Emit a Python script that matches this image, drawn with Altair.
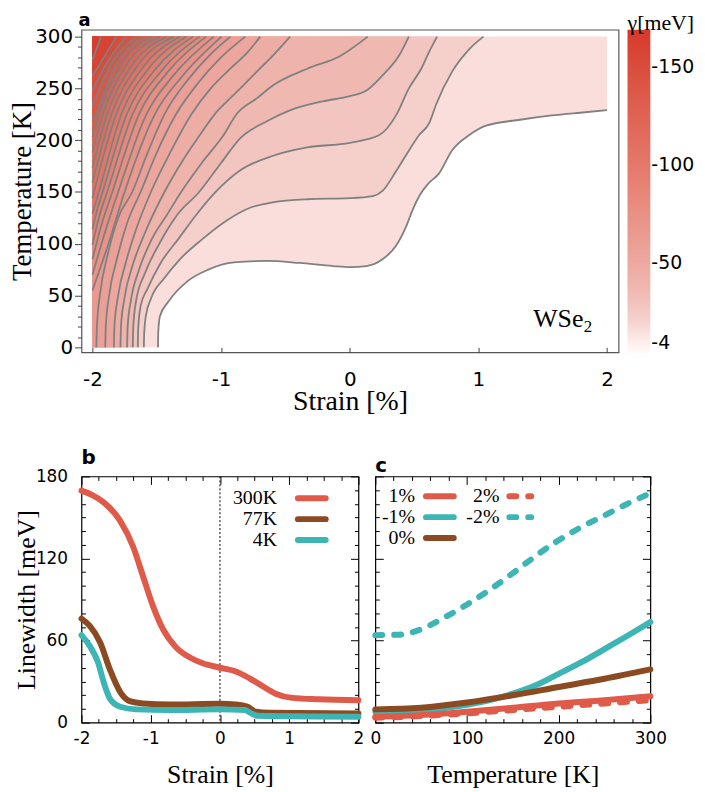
import altair as alt
import pandas as pd

SERIF = "Liberation Serif"
SANS = "DejaVu Sans"
RED = "#e05a4a"
BROWN = "#8b4a22"
TEAL = "#3db5b5"
GRAY = "#808080"

# ---------------- panel a : contour lines (strain %, temperature K) ----------------
L01 = [(-1.49, 0), (-1.488, 15), (-1.475, 30), (-1.41, 44), (-1.26, 64), (-1.10, 75), (-0.90, 82),
       (-0.64, 83.5), (-0.39, 81.5), (-0.13, 78.5), (0.0, 77.5), (0.13, 78.5), (0.255, 85), (0.36, 98),
       (0.44, 117), (0.49, 133), (0.55, 148), (0.61, 158), (0.695, 168), (0.795, 190), (0.93, 205),
       (1.06, 214), (1.31, 219.5), (1.57, 224), (1.83, 227), (2.0, 229)]
L02 = [(-1.60, 0), (-1.597, 15), (-1.585, 30), (-1.545, 47), (-1.44, 67), (-1.32, 85), (-1.15, 104),
       (-0.95, 123), (-0.77, 135), (-0.60, 140), (-0.33, 143), (0.0, 144), (0.18, 146), (0.255, 151),
       (0.36, 170), (0.44, 186), (0.54, 205), (0.62, 217), (0.67, 234), (0.795, 266), (0.93, 288), (1.04, 300)]
L03 = [(-1.647, 0), (-1.644, 18), (-1.625, 40), (-1.57, 57), (-1.467, 82), (-1.336, 104), (-1.18, 130),
       (-1.027, 152), (-0.85, 171), (-0.595, 185), (-0.33, 193), (0.0, 197.5), (0.23, 205), (0.36, 224),
       (0.46, 250), (0.556, 269), (0.62, 286), (0.68, 300)]
L04 = [(-1.686, 0), (-1.682, 20), (-1.66, 45), (-1.59, 72), (-1.48, 100), (-1.34, 128), (-1.17, 150),
       (-1.0, 178), (-0.85, 202), (-0.64, 218.5), (-0.46, 229), (-0.21, 237.5), (0.0, 242.5), (0.13, 248),
       (0.255, 262.5), (0.385, 282), (0.46, 300)]
L05 = [(-1.73, 0), (-1.726, 20), (-1.70, 46), (-1.64, 74), (-1.54, 104), (-1.42, 128), (-1.31, 150),
       (-1.15, 178), (-0.98, 205), (-0.88, 225), (-0.72, 240.6), (-0.595, 253), (-0.33, 269), (-0.077, 281),
       (0.14, 300)]
L06 = [(-1.782, 0), (-1.778, 20), (-1.75, 48), (-1.69, 78), (-1.60, 108), (-1.44, 150), (-1.30, 180),
       (-1.17, 204), (-1.05, 225), (-0.95, 238), (-0.85, 250), (-0.72, 266.5), (-0.595, 282), (-0.463, 300)]
L07 = [(-1.833, 0), (-1.829, 20), (-1.80, 50), (-1.74, 82), (-1.66, 114), (-1.545, 150), (-1.42, 182),
       (-1.23, 225), (-1.08, 250), (-0.92, 270), (-0.80, 284), (-0.695, 300)]
L08 = [(-1.90, 0), (-1.896, 20), (-1.87, 50), (-1.81, 85), (-1.73, 120), (-1.625, 150), (-1.51, 185),
       (-1.35, 225), (-1.18, 255), (-1.0, 280), (-0.811, 300)]
L09 = [(-1.969, 0), (-1.965, 20), (-1.94, 52), (-1.88, 90), (-1.80, 125), (-1.69, 150), (-1.58, 185),
       (-1.44, 225), (-1.26, 258), (-1.09, 282), (-0.927, 300)]
L10 = [(-2.0, 55), (-1.875, 100), (-1.75, 150), (-1.515, 225), (-1.30, 262), (-0.996, 300)]
L11 = [(-2.0, 70), (-1.905, 110), (-1.80, 150), (-1.58, 225), (-1.36, 264), (-1.056, 300)]
L12 = [(-2.0, 85), (-1.93, 118), (-1.845, 150), (-1.638, 225), (-1.42, 265), (-1.115, 300)]
L13 = [(-2.0, 99), (-1.95, 125), (-1.885, 150), (-1.688, 225), (-1.47, 266), (-1.166, 300)]
L14 = [(-2.0, 114), (-1.96, 134), (-1.92, 150), (-1.733, 225), (-1.52, 267), (-1.218, 300)]
L15 = [(-2.0, 129), (-1.95, 150), (-1.775, 225), (-1.57, 268), (-1.269, 300)]
L16 = [(-2.0, 144), (-1.815, 225), (-1.615, 269), (-1.320, 300)]
L17 = [(-2.0, 159), (-1.851, 225), (-1.66, 270), (-1.369, 300)]
L18 = [(-2.0, 173), (-1.885, 225), (-1.705, 270), (-1.423, 300)]
L19 = [(-2.0, 188), (-1.917, 225), (-1.75, 270), (-1.475, 300)]
L20 = [(-2.0, 203), (-1.947, 225), (-1.79, 270), (-1.531, 300)]
L21 = [(-2.0, 218), (-1.975, 225), (-1.83, 270), (-1.596, 300)]
L22 = [(-2.0, 233), (-1.87, 270), (-1.660, 300)]
L23 = [(-2.0, 248), (-1.91, 270), (-1.737, 300)]
L24 = [(-2.0, 262), (-1.95, 272), (-1.815, 300)]
L25 = [(-2.0, 277), (-1.975, 286), (-1.931, 300)]
CONTOURS = [L01, L02, L03, L04, L05, L06, L07, L08, L09, L10, L11, L12, L13,
            L14, L15, L16, L17, L18, L19, L20, L21, L22, L23, L24, L25]
LEVELS = [13, 19, 25, 32, 38, 44, 50, 56, 63, 69, 75, 81, 87, 94, 100, 106, 112,
          118, 125, 131, 137, 143, 149, 156, 162]
CB_DOMAIN = [4, 12, 20, 35, 60, 100, 140, 169]
CB_RANGE = ["#ffffff", "#fbe9e7", "#f6d3cf", "#efb9b2", "#ea9f95", "#e4786a", "#dc5645", "#d6392a"]
CB_TICKS = [4, 50, 100, 150]

# ---------------- panel b : linewidth vs strain ----------------
B300_S = [-2.0, -1.85, -1.684, -1.445, -1.254, -1.11, -0.967, -0.823, -0.632, -0.44, -0.249, -0.033,
          0.23, 0.421, 0.612, 0.804, 1.043, 1.426, 2.0]
B300_G = [169.6, 166.5, 161.2, 147.9, 128.6, 106.9, 85.2, 68.3, 55.0, 47.8, 43.4, 40.5,
          37.4, 32.6, 26.8, 21.2, 18.1, 17.1, 16.4]
B77_S = [-2.0, -1.88, -1.73, -1.59, -1.44, -1.30, -1.11, -0.73, 0.0, 0.23, 0.40, 0.52, 0.71, 2.0]
B77_G = [76, 70.7, 58.6, 39, 22.4, 15.7, 14, 13.3, 13.8, 13.3, 11.6, 8, 7.2, 6.8]
B4_S = [-2.0, -1.88, -1.76, -1.68, -1.59, -1.44, -1.21, -0.73, 0.0, 0.36, 0.45, 0.55, 2.0]
B4_G = [64, 56, 44, 29.7, 17.6, 11.6, 9.7, 9.2, 9.7, 9.2, 6.8, 5.0, 4.3]

# ---------------- panel c : linewidth vs temperature ----------------
CM2_T = [0, 25, 50, 75, 100, 125, 150, 175, 200, 225, 250, 275, 300]
CM2_G = [64, 64.3, 68.3, 76.7, 86.4, 97.2, 109.3, 121.9, 133.4, 143.1, 151.5, 160, 167.7]
CM1_T = [0, 50, 100, 125, 150, 175, 200, 225, 250, 275, 300]
CM1_G = [8.0, 9.0, 13.0, 16.5, 21.2, 27.3, 35.7, 44.2, 53.8, 63.5, 73.6]
C0_T = [0, 50, 100, 150, 200, 250, 300]
C0_G = [9.7, 10.9, 14.7, 20.0, 26.1, 32.1, 38.9]
CP1_T = [0, 50, 100, 150, 200, 250, 300]
CP1_G = [4.3, 5.5, 8.0, 10.9, 14.0, 16.4, 19.3]
CP2_T = [0, 50, 100, 150, 200, 250, 300]
CP2_G = [3.6, 4.8, 6.8, 9.2, 11.6, 14.0, 16.4]

# =====================================================================
WA, HA = 541, 325
XA = alt.Scale(domain=[-2.085, 2.09], nice=False, zero=False)
YA = alt.Scale(domain=[-4.8, 306.7], nice=False, zero=False)
COLOR_A = alt.Scale(domain=CB_DOMAIN, range=CB_RANGE)
LEGEND_A = alt.Legend(
    title="γ[meV]", orient="none", legendX=WA + 9, legendY=-17, direction="vertical",
    gradientLength=326, gradientThickness=23, gradientStrokeWidth=0, values=CB_TICKS,
    titleFont=SERIF, titleFontSize=22, titleFontWeight="normal", titleColor="black", titlePadding=-5,
    labelFont=SANS, labelFontSize=19, labelColor="black", labelExpr="'-' + datum.label", labelOffset=1,
)

area_layers = []
line_rows = []
for k, pts in enumerate(CONTOURS):
    for i, (s, t) in enumerate(pts):
        line_rows.append({"k": k, "i": i, "s": s, "T": t})
    pts_area = list(pts)
    if pts_area[0][0] > -2.0:          # line starts on the bottom edge: fill everything left of it
        pts_area = [(-2.0, 0.0)] + pts_area
    dfa = pd.DataFrame(pts_area, columns=["s", "T"])
    dfa["top"] = 300.0
    dfa["band"] = LEVELS[k] + 3
    area_layers.append(
        alt.Chart(dfa).mark_area(interpolate="monotone", opacity=1).encode(
            x=alt.X("s:Q", scale=XA, axis=None),
            y=alt.Y("T:Q", scale=YA, axis=None),
            y2="top:Q",
            color=alt.Color("band:Q", scale=COLOR_A, legend=LEGEND_A),
        )
    )
df_lines = pd.DataFrame(line_rows)

contour_lines = alt.Chart(df_lines).mark_line(
    interpolate="monotone", color=GRAY, strokeWidth=1.8
).encode(
    x=alt.X("s:Q", scale=XA, axis=alt.Axis(
        values=[-2, -1, 0, 1, 2], labelExpr="toString(datum.value)", ticks=False, tickSize=0,
        labelFlush=False, domain=False, labelFont=SANS, labelFontSize=20, labelPadding=17,
        labelColor="black", title="Strain [%]", titleFont=SERIF, titleFontSize=28,
        titleFontWeight="normal", titlePadding=-1, titleColor="black")),
    y=alt.Y("T:Q", scale=YA, axis=alt.Axis(
        values=list(range(0, 301, 50)), tickSize=7, tickColor="#444", tickWidth=1, domain=False,
        labelFont=SANS, labelFontSize=20, labelPadding=2, labelColor="black",
        title="Temperature [K]", titleFont=SERIF, titleFontSize=27, titleFontWeight="normal",
        titlePadding=-2, titleColor="black")),
    detail="k:N",
    order="i:Q",
)

carrier_a = alt.Chart(df_lines).mark_point(opacity=0).encode(
    x=alt.X("s:Q", scale=XA, axis=alt.Axis(
        orient="top", offset=-HA, values=[-2, -1, 0, 1, 2], labels=False, domain=False,
        tickSize=5, tickColor="#444", title=None)),
    y=alt.Y("T:Q", scale=YA, axis=alt.Axis(
        orient="left", values=[v for v in range(0, 301, 10) if v % 50], labels=False,
        domain=False, tickSize=4, tickColor="#444", title=None)),
)

label_a = alt.Chart(pd.DataFrame({"t": ["a"]})).mark_text(
    font=SANS, fontSize=18, fontWeight="bold", align="left", baseline="alphabetic", color="black"
).encode(text="t:N", x=alt.value(-3), y=alt.value(-4))
wse = alt.Chart(pd.DataFrame({"t": ["WSe"]})).mark_text(
    font=SERIF, fontSize=26, align="left", baseline="alphabetic", color="black"
).encode(text="t:N", x=alt.value(455), y=alt.value(299))
sub2 = alt.Chart(pd.DataFrame({"t": ["2"]})).mark_text(
    font=SERIF, fontSize=17, align="left", baseline="alphabetic", color="black"
).encode(text="t:N", x=alt.value(506), y=alt.value(305))

panel_a = alt.layer(*area_layers, contour_lines, carrier_a, label_a, wse, sub2).resolve_axis(
    x="independent", y="independent"
).properties(
    width=WA, height=HA,
    view=alt.ViewBackground(stroke="#555", strokeWidth=1.2),
)

# =====================================================================
WB, HB = 279, 248
WC = 277


def series(xs, ys, color, xs_scale, ys_scale, dash=None):
    kw = dict(color=color, strokeWidth=6, strokeCap="round", strokeJoin="round", interpolate="monotone")
    if dash:
        kw["strokeDash"] = dash
    return alt.Chart(pd.DataFrame({"x": xs, "y": ys})).mark_line(**kw).encode(
        x=alt.X("x:Q", scale=xs_scale, axis=None), y=alt.Y("y:Q", scale=ys_scale, axis=None))


def inner_ticks(df, xs_scale, ys_scale, W, H, x_major, x_minor, y_major, y_minor):
    out = []
    for vx, vy, size in ((x_major, y_major, 8), (x_minor, y_minor, 4)):
        for xo, yo in (("top", "right"), ("bottom", "left")):
            common = dict(labels=False, domain=False, title=None, tickSize=size,
                          tickColor="black", tickWidth=1)
            out.append(alt.Chart(df).mark_point(opacity=0).encode(
                x=alt.X("x:Q", scale=xs_scale, axis=alt.Axis(orient=xo, offset=-H, values=vx, **common)),
                y=alt.Y("y:Q", scale=ys_scale, axis=alt.Axis(orient=yo, offset=-W, values=vy, **common))))
    return out


def legend_entry(label, color, dash, x_text, x0, x1, y):
    d = pd.DataFrame({"t": [label]})
    txt = alt.Chart(d).mark_text(font=SERIF, fontSize=20, align="right", baseline="middle",
                                 color="black").encode(text="t:N", x=alt.value(x_text), y=alt.value(y))
    kw = dict(color=color, strokeWidth=6, strokeCap="round")
    if dash:
        kw["strokeDash"] = dash
    rule = alt.Chart(d).mark_rule(**kw).encode(x=alt.value(x0), x2=alt.value(x1), y=alt.value(y))
    return [txt, rule]


Y_MAJOR = [0, 60, 120, 180]
Y_MINOR = [v for v in range(0, 181, 10) if v % 60]
DASH = [7, 12]

# ---- panel b
XB = alt.Scale(domain=[-2, 2], nice=False, zero=False)
YB = alt.Scale(domain=[0, 180], nice=False, zero=False)
df_b = pd.DataFrame({"x": B300_S, "y": B300_G})

zero_line = alt.Chart(pd.DataFrame({"x": [0.0]})).mark_rule(
    color="black", strokeWidth=1, strokeDash=[2, 2]
).encode(x=alt.X("x:Q", scale=XB, axis=None))

main_b = alt.Chart(df_b).mark_point(opacity=0).encode(
    x=alt.X("x:Q", scale=XB, axis=alt.Axis(
        values=[-2, -1, 0, 1, 2], labelExpr="toString(datum.value)", ticks=False, tickSize=0,
        labelFlush=False, domain=False, labelFont=SANS, labelFontSize=17, labelPadding=8,
        labelColor="black", title="Strain [%]", titleFont=SERIF, titleFontSize=26,
        titleFontWeight="normal", titlePadding=15, titleColor="black")),
    y=alt.Y("y:Q", scale=YB, axis=alt.Axis(
        values=Y_MAJOR, ticks=False, tickSize=0, domain=False, labelFont=SANS, labelFontSize=17,
        labelPadding=14, labelColor="black", title="Linewidth [meV]", titleFont=SERIF,
        titleFontSize=26, titleFontWeight="normal", titlePadding=-4, titleColor="black")),
)

layers_b = [zero_line,
            series(B300_S, B300_G, RED, XB, YB),
            series(B77_S, B77_G, BROWN, XB, YB),
            series(B4_S, B4_G, TEAL, XB, YB),
            main_b]
layers_b += inner_ticks(df_b, XB, YB, WB, HB, [-2, -1, 0, 1, 2],
                        [v / 4 for v in range(-8, 9) if v % 4], Y_MAJOR, Y_MINOR)
for lab, col, yy in (("300K", RED, 22), ("77K", BROWN, 43), ("4K", TEAL, 64)):
    layers_b += legend_entry(lab, col, None, 197, 218, 246, yy)

panel_b = alt.layer(*layers_b).resolve_axis(x="independent", y="independent").properties(
    width=WB, height=HB,
    title=alt.Title("b", anchor="start", frame="group", font=SANS, fontSize=20,
                    fontWeight="bold", offset=0, color="black"),
)

# ---- panel c
XC = alt.Scale(domain=[0, 300], nice=False, zero=False)
df_c = pd.DataFrame({"x": CM2_T, "y": CM2_G})

main_c = alt.Chart(df_c).mark_point(opacity=0).encode(
    x=alt.X("x:Q", scale=XC, axis=alt.Axis(
        values=[0, 100, 200, 300], ticks=False, tickSize=0, labelFlush=False, domain=False,
        labelFont=SANS, labelFontSize=17, labelPadding=8, labelColor="black",
        title="Temperature [K]", titleFont=SERIF, titleFontSize=26, titleFontWeight="normal",
        titlePadding=15, titleColor="black")),
    y=alt.Y("y:Q", scale=YB, axis=None),
)

layers_c = [series(CM2_T, CM2_G, TEAL, XC, YB, DASH),
            series(CP2_T, CP2_G, RED, XC, YB, DASH),
            series(CM1_T, CM1_G, TEAL, XC, YB),
            series(CP1_T, CP1_G, RED, XC, YB),
            series(C0_T, C0_G, BROWN, XC, YB),
            main_c]
layers_c += inner_ticks(df_c, XC, YB, WC, HB, [0, 100, 200, 300],
                        [v for v in range(0, 301, 20) if v % 100], Y_MAJOR, Y_MINOR)
for lab, col, dash, xt, x0, x1, yy in (
        ("1%", RED, None, 40, 51, 79, 20), ("-1%", TEAL, None, 40, 51, 79, 41),
        ("0%", BROWN, None, 40, 51, 79, 62),
        ("2%", RED, DASH, 125, 135, 157, 20), ("-2%", TEAL, DASH, 125, 135, 157, 41)):
    layers_c += legend_entry(lab, col, dash, xt, x0, x1, yy)

panel_c = alt.layer(*layers_c).resolve_axis(x="independent", y="independent").properties(
    width=WC, height=HB,
    title=alt.Title("c", anchor="start", frame="group", font=SANS, fontSize=20,
                    fontWeight="bold", offset=0, color="black"),
)

chart = alt.vconcat(
    panel_a, alt.hconcat(panel_b, panel_c, spacing=3), spacing=30
).properties(
    padding={"left": 0, "top": 0, "right": 2, "bottom": 0}
).configure_axis(grid=False).configure_view(stroke="black", strokeWidth=1.2)

chart.save("out.html", embed_options={"renderer": "svg", "actions": False})
